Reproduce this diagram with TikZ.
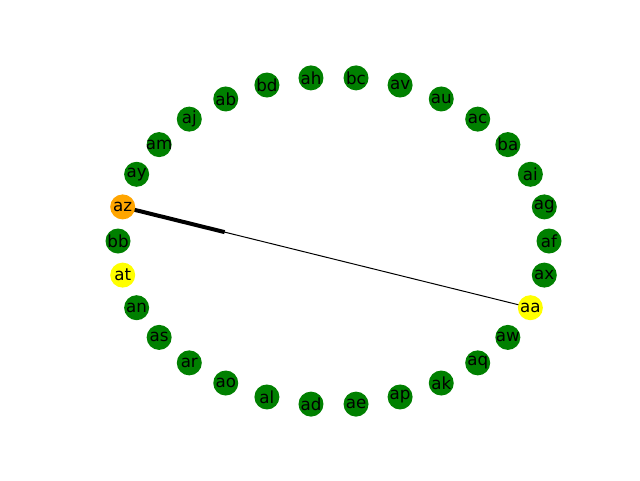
\documentclass[tikz,border=0pt]{standalone}
\usepackage{fontspec}
\setmainfont{DejaVu Sans}
\usetikzlibrary{calc,backgrounds}
\begin{document}
\begin{tikzpicture}[x=1pt,y=-1pt,
  vtx/.style={circle,minimum size=25pt,inner sep=-5pt,font=\fontsize{16.7}{20}\selectfont},
  gv/.style={vtx,fill={rgb,255:red,0;green,128;blue,0}},
  yv/.style={vtx,fill={rgb,255:red,255;green,255;blue,0}},
  ov/.style={vtx,fill={rgb,255:red,255;green,165;blue,0}},
  edgeline/.style={black,line width=1pt},
  arrowpart/.style={black,line width=4pt}]
\useasboundingbox (0,0) rectangle (640,480);
\def\cx{333.5}\def\cy{241}\def\rx{215.5}\def\ry{164}
\foreach \n/\a/\s in {af/0/gv,ag/12/gv,ai/24/gv,ba/36/gv,ac/48/gv,au/60/gv,av/72/gv,bc/84/gv,ah/96/gv,bd/108/gv,ab/120/gv,aj/132/gv,am/144/gv,ay/156/gv,az/168/ov,bb/180/gv,at/192/yv,an/204/gv,as/216/gv,ar/228/gv,ao/240/gv,al/252/gv,ad/264/gv,ae/276/gv,ap/288/gv,ak/300/gv,aq/312/gv,aw/324/gv,aa/336/yv,ax/348/gv}
  \node[\s] (\n) at ({\cx+\rx*cos(\a)},{\cy-\ry*sin(\a)}) {\n};
\begin{scope}[on background layer]
\draw[edgeline] (az.center) -- (aa.center);
\draw[arrowpart] (az.center) -- ($(az.center)!0.25!(aa.center)$);
\end{scope}
\end{tikzpicture}
\end{document}
